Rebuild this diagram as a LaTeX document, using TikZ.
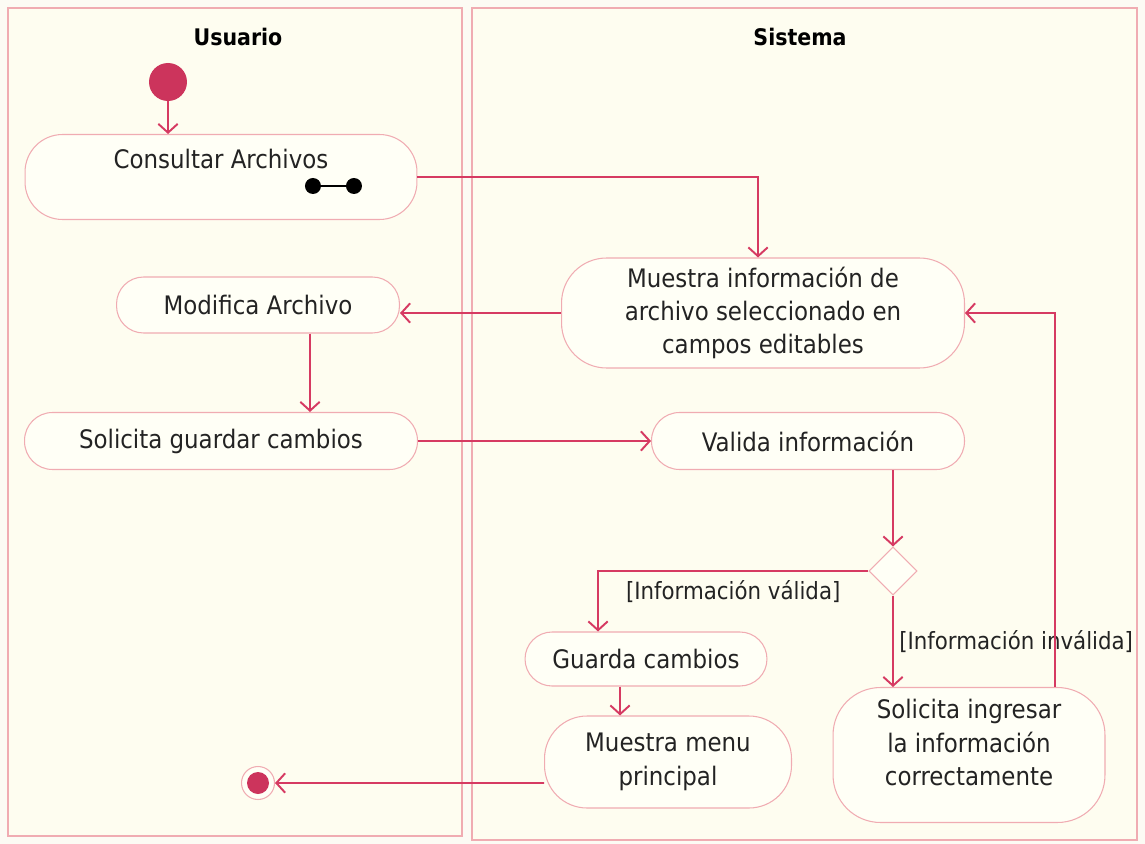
\documentclass[tikz,border=0pt]{standalone}
\usepackage{fontspec}
\setmainfont{DejaVu Sans Condensed}
\usepackage{tikz}
\usetikzlibrary{shapes.geometric, arrows.meta, positioning}
\definecolor{flowred}{RGB}{214, 58, 98}
\definecolor{edgepink}{RGB}{240, 172, 178}
\definecolor{creambg}{RGB}{254, 253, 240}
\definecolor{pagebg}{RGB}{252, 251, 244}
\definecolor{nodefill}{RGB}{255, 255, 246}
\definecolor{dotred}{RGB}{204, 52, 92}
\definecolor{textgray}{RGB}{35, 35, 35}

\begin{document}
\begin{tikzpicture}[
        x=0.02cm, y=-0.02cm,
        lane/.style={draw=edgepink, fill=creambg, line width=0.6pt},
        lanetitle/.style={font=\bfseries\fontsize{13}{17}\selectfont, text=black},
        act/.style={rectangle, rounded corners=#1, draw=edgepink, fill=nodefill, line width=0.6pt, align=center, font=\fontsize{14.5}{19}\selectfont, text=textgray, inner sep=0pt},
        act/.default=0.54cm,
        decisionbox/.style={diamond, draw=edgepink, fill=nodefill, line width=0.6pt, minimum width=0.96cm, minimum height=0.96cm, inner sep=0pt},
        startdot/.style={circle, fill=dotred, minimum size=0.76cm, inner sep=0pt},
        enddot/.style={circle, draw=edgepink, fill=nodefill, line width=0.6pt, minimum size=0.66cm, inner sep=0pt, path picture={\fill[dotred] (path picture bounding box.center) circle (0.22cm);}},
        guard/.style={font=\fontsize{13.5}{17}\selectfont, text=textgray, inner sep=1pt},
        flow/.style={-{Straight Barb[length=5pt, width=11pt]}, flowred, line width=1.1pt}
    ]
        % page and swimlanes
        \fill[pagebg] (0,0) rectangle (1145,844);
        \useasboundingbox (0,0) rectangle (1145,844);
        \draw[lane] (8,8) rectangle (462,836);
        \draw[lane] (472,8) rectangle (1137,840);
        \node[lanetitle] (usuario) at (238,37) {Usuario};
        \node[lanetitle] (sistema) at (800,37) {Sistema};

        % activities
        \node[startdot] (start) at (168,82) {};
        \node[act=0.75cm, minimum width=7.84cm, minimum height=1.7cm, text height=0.4cm, text depth=0.75cm] (consultar) at (221,177) {Consultar Archivos};
        \node[act=0.9cm, minimum width=8.06cm, minimum height=2.2cm] (muestra) at (763,313) {Muestra información de\\archivo seleccionado en\\campos editables};
        \node[act, minimum width=5.66cm, minimum height=1.12cm] (modifica) at (258,305) {Modifica Archivo};
        \node[act=0.56cm, minimum width=7.86cm, minimum height=1.14cm] (solguardar) at (221,441) {Solicita guardar cambios};
        \node[act=0.56cm, minimum width=6.26cm, minimum height=1.14cm] (valida) at (808,441) {Valida información};
        \node[decisionbox] (decision) at (893,571) {};
        \node[act, minimum width=4.84cm, minimum height=1.08cm] (guarda) at (646,659) {Guarda cambios};
        \node[act=0.85cm, minimum width=4.94cm, minimum height=1.84cm] (menu) at (668,762) {Muestra menu\\principal};
        \node[act=0.95cm, minimum width=5.44cm, minimum height=2.7cm, text depth=0.5cm] (solingresar) at (969,755) {Solicita ingresar\\la información\\correctamente};
        \node[enddot] (final) at (258,783) {};

        % sub-activity mark
        \draw[black, line width=1pt] ([shift={(1.84cm,-0.18cm)}]consultar.center) -- ([shift={(2.66cm,-0.18cm)}]consultar.center);
        \fill[black] ([shift={(1.84cm,-0.18cm)}]consultar.center) circle (0.16cm);
        \fill[black] ([shift={(2.66cm,-0.18cm)}]consultar.center) circle (0.16cm);

        % flows
        \draw[flow] (start.south) -- (start.south |- consultar.north);
        \draw[flow] (consultar.east) -| ([xshift=-0.1cm]muestra.north);
        \draw[flow] (muestra.west) -- (muestra.west -| modifica.east);
        \draw[flow] ([xshift=1.04cm]modifica.south) coordinate (m1) -- (m1 |- solguardar.north);
        \draw[flow] (solguardar.east) -- (valida.west);
        \draw[flow] (valida.south -| decision.north) -- (decision.north);
        \draw[flow] (decision.west) -| node[guard, pos=0.25, below=4pt] {[Información válida]} ([xshift=-0.96cm]guarda.north);
        \draw[flow] (decision.south) -- node[guard, right=2pt] {[Información inválida]} (decision.south |- solingresar.north);
        \draw[flow] ([xshift=1.72cm]solingresar.north) coordinate (s1) |- (muestra.east);
        \draw[flow] ([xshift=-0.52cm]guarda.south) coordinate (g1) -- (g1 |- menu.north);
        \draw[flow] ([yshift=-0.42cm]menu.west) -- (final.east);
    \end{tikzpicture}
\end{document}
